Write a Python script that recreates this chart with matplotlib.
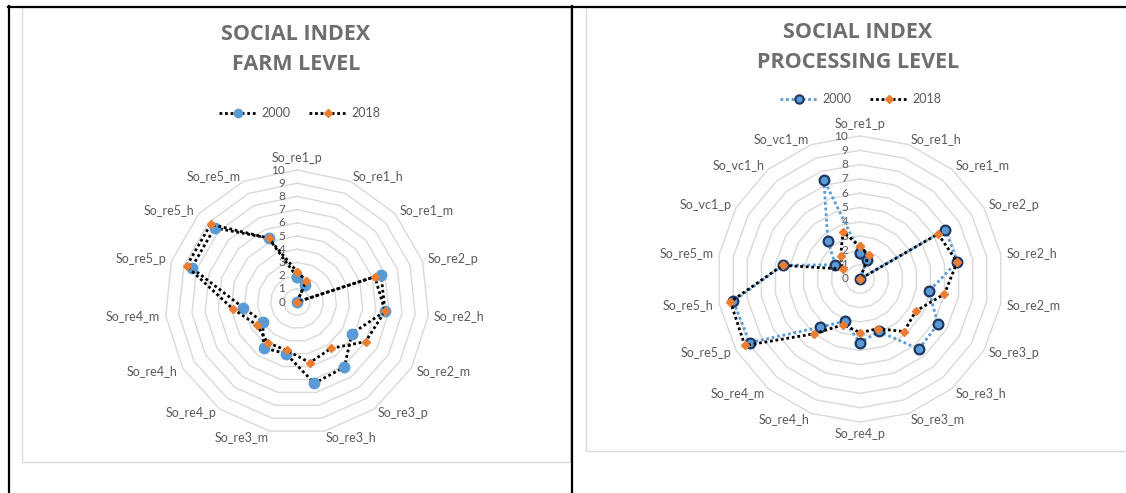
import numpy as np
import matplotlib.pyplot as plt
from matplotlib.lines import Line2D
from matplotlib.patches import Rectangle

plt.rcParams['font.family'] = ['Lato', 'DejaVu Sans']

W, H = 1126, 493

farm_labels = ['So_re1_p', 'So_re1_h', 'So_re1_m', 'So_re2_p', 'So_re2_h', 'So_re2_m',
               'So_re3_p', 'So_re3_h', 'So_re3_m', 'So_re4_p', 'So_re4_h', 'So_re4_m',
               'So_re5_p', 'So_re5_h', 'So_re5_m']
farm_2000 = [1.9, 1.4, 0, 6.7, 6.7, 4.8, 6.1, 6.3, 4.0, 4.3, 3.0, 4.1, 8.4, 8.4, 5.3]
farm_2018 = [2.3, 1.75, 0, 6.2, 6.7, 6.0, 4.35, 4.7, 3.75, 3.8, 3.5, 4.9, 8.8, 8.8, 5.3]

proc_labels = ['So_re1_p', 'So_re1_h', 'So_re1_m', 'So_re2_p', 'So_re2_h', 'So_re2_m',
               'So_re3_p', 'So_re3_h', 'So_re3_m', 'So_re4_p', 'So_re4_h', 'So_re4_m',
               'So_re5_p', 'So_re5_h', 'So_re5_m', 'So_vc1_p', 'So_vc1_h', 'So_vc1_m']
proc_2000 = [1.8, 1.45, 0, 6.9, 6.9, 4.9, 6.3, 6.4, 3.9, 4.45, 3.15, 4.4,
             8.9, 9.0, 5.5, 2.0, 3.5, 7.4]
proc_2018 = [2.3, 1.75, 0, 6.3, 6.9, 6.0, 4.5, 4.8, 3.7, 3.75, 3.4, 5.0,
             9.3, 9.2, 5.5, 1.4, 2.1, 3.5]

years = ['2000', '2018']

BLUE = '#5B9BD5'
ORANGE = '#ED7D31'
NAVY = '#1F3864'
TEXT = '#595959'
GRID = '#D9D9D9'


def fx(x):
    return x / W


def fy(y):
    return 1 - y / H


def radar(fig, cx, cy, r, labels, s2000, s2018, processing):
    ax = fig.add_axes([fx(cx - r), fy(cy + r), 2 * r / W, 2 * r / H],
                      projection='polar')
    ax.set_theta_zero_location('N')
    ax.set_theta_direction(-1)
    ax.set_ylim(0, 10)
    ax.grid(False)
    ax.spines['polar'].set_visible(False)
    ax.set_xticks([])
    ax.set_yticks([])
    ax.patch.set_visible(False)

    n = len(labels)
    theta = np.arange(n) * 2 * np.pi / n
    closed = np.append(theta, theta[0])

    # polygon gridlines, one per unit
    for k in range(1, 11):
        ax.plot(closed, [k] * (n + 1), color=GRID, lw=1.0, zorder=1, clip_on=False)

    # value labels left of the vertical axis
    for k in range(0, 11):
        ax.annotate(str(k), xy=(0, k), xytext=(-8.5, 0), textcoords='offset points',
                    ha='right', va='center', fontsize=8.5, color=TEXT)

    # category labels just outside the outer ring
    for t, lab in zip(theta, labels):
        s, c = np.sin(t), np.cos(t)
        if abs(s) < 0.05:
            ha = 'center'
            va = 'bottom' if c > 0 else 'top'
        else:
            ha = 'left' if s > 0 else 'right'
            va = 'center'
        ax.annotate(lab, xy=(t, 10), xytext=(4 * s, 4 * c), textcoords='offset points',
                    ha=ha, va=va, fontsize=9, color=TEXT, annotation_clip=False)

    v0 = np.append(s2000, s2000[0])
    v1 = np.append(s2018, s2018[0])
    dots = (0, (1, 1))
    if processing:
        ax.plot(closed, v0, color=BLUE, lw=2, ls=dots, marker='o', ms=7,
                mfc=BLUE, mec=NAVY, mew=1.6, zorder=3, clip_on=False)
    else:
        ax.plot(closed, v0, color='black', lw=2, ls=dots, marker='o', ms=7.5,
                mfc=BLUE, mec=BLUE, zorder=3, clip_on=False)
    ax.plot(closed, v1, color='black', lw=2, ls=dots, marker='D', ms=4.5,
            mfc=ORANGE, mec=ORANGE, zorder=4, clip_on=False)
    return ax


fig = plt.figure(figsize=(W / 100, H / 100), dpi=100)

# chart area frames
fig.patches.append(Rectangle((fx(22), fy(462)), fx(570 - 22), (462 - 7) / H,
                             transform=fig.transFigure, fill=False, ec=GRID, lw=1))
fig.patches.append(Rectangle((fx(586), fy(451)), fx(1140 - 586), (451 - 7) / H,
                             transform=fig.transFigure, fill=False, ec=GRID, lw=1))

# table borders
fig.lines.append(Line2D([fx(8), 1], [fy(6.5), fy(6.5)], color='black', lw=1.6,
                        transform=fig.transFigure))
fig.lines.append(Line2D([fx(9), fx(9)], [fy(6), 0], color='black', lw=1.6,
                        transform=fig.transFigure))
fig.lines.append(Line2D([fx(571.5), fx(571.5)], [fy(6), 0], color='black', lw=1.6,
                        transform=fig.transFigure))

radar(fig, 297, 302, 132, farm_labels, farm_2000, farm_2018, False)
radar(fig, 860, 279, 143, proc_labels, proc_2000, proc_2018, True)

title_kw = dict(ha='center', va='center', fontsize=15.5, fontweight='bold',
                color='#6E6E6E', family='Open Sans')
fig.text(fx(296), fy(34), 'SOCIAL INDEX', **title_kw)
fig.text(fx(296), fy(64), 'FARM LEVEL', **title_kw)
fig.text(fx(858), fy(33), 'SOCIAL INDEX', **title_kw)
fig.text(fx(858), fy(63), 'PROCESSING LEVEL', **title_kw)

dots = (0, (1, 1))
farm_handles = [
    Line2D([], [], color='black', lw=2, ls=dots, marker='o', ms=6, mfc=BLUE, mec=BLUE),
    Line2D([], [], color='black', lw=2, ls=dots, marker='D', ms=4, mfc=ORANGE, mec=ORANGE),
]
proc_handles = [
    Line2D([], [], color=BLUE, lw=2, ls=dots, marker='o', ms=6, mfc=BLUE, mec=NAVY, mew=1.5),
    Line2D([], [], color='black', lw=2, ls=dots, marker='D', ms=4, mfc=ORANGE, mec=ORANGE),
]
leg_kw = dict(loc='center', ncol=2, frameon=False, fontsize=9, labelcolor=TEXT,
              handlelength=3, columnspacing=1.5, handletextpad=0.4)
fig.legend(farm_handles, years, bbox_to_anchor=(fx(300), fy(113)), **leg_kw)
fig.legend(proc_handles, years, bbox_to_anchor=(fx(861), fy(99)), **leg_kw)

fig.savefig('out.png', dpi=100, facecolor='white')
